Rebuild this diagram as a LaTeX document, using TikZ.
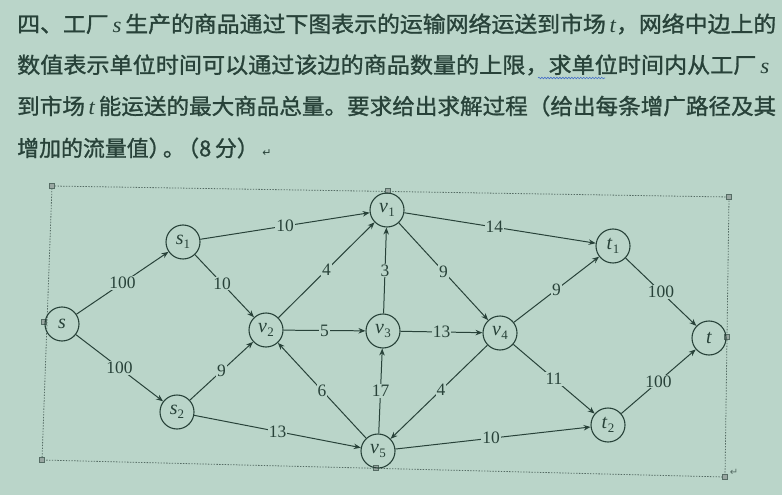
\documentclass[tikz,border=0pt]{standalone}
\usepackage{fontspec}
\usepackage{graphicx}
\setmainfont{Liberation Serif}
\newfontfamily\cjk{Noto Sans CJK SC}[FakeBold=1.2]
\newfontfamily\symf{DejaVu Sans}
\usetikzlibrary{arrows.meta,decorations.pathmorphing}

\definecolor{paper}{RGB}{186,213,201}
\definecolor{ink}{RGB}{40,66,57}
\definecolor{framegray}{RGB}{85,108,100}
\definecolor{spellblue}{RGB}{70,110,200}

% vertex label: italic letter with an upright subscript
\newcommand{\vx}[2]{\textit{#1}\kern0.2pt\raisebox{-0.4ex}{\fontsize{13}{13}\selectfont #2}}
\newcommand{\lit}[1]{{\rmfamily\itshape #1}}

\tikzset{
  vert/.style={circle, draw=ink, line width=1.1pt, minimum size=34bp, inner sep=0pt,
               font=\fontsize{20}{20}\selectfont, text=ink},
  arc/.style={draw=ink, line width=1pt, -{Stealth[length=7bp,width=5.5bp]}},
  wt/.style={fill=paper, inner sep=1pt, font=\fontsize{17.5}{17.5}\selectfont, text=ink},
  textline/.style={anchor=west, inner sep=0pt, text=ink},
  framedash/.style={draw=framegray, line width=0.8pt, dash pattern=on 1.4pt off 1.4pt},
  handle/.style={draw=framegray, fill=framegray!60, line width=0.5pt, minimum size=5bp,
                 inner sep=0pt, rectangle},
}

\begin{document}
\begin{tikzpicture}[x=1bp,y=-1bp]
  \fill[paper] (0,0) rectangle (782,495);
  \useasboundingbox (0,0) rectangle (782,495);

  % problem statement
  \node[textline] (l1) at (17,24) {\resizebox{759bp}{\height}{\cjk\fontsize{22}{22}\selectfont
    四、工厂\,\lit{s}\,生产的商品通过下图表示的运输网络运送到市场\,\lit{t}，网络中边上的}};
  \node[textline] (l2) at (17,65) {\resizebox{752bp}{\height}{\cjk\fontsize{22}{22}\selectfont
    数值表示单位时间可以通过该边的商品数量的上限，求单位时间内从工厂\,\lit{s}}};
  \node[textline] (l3) at (17,106) {\resizebox{759bp}{\height}{\cjk\fontsize{22}{22}\selectfont
    到市场\,\lit{t}\,能运送的最大商品总量。要求给出求解过程（给出每条增广路径及其}};
  \node[textline] (l4) at (17,148) {\cjk\fontsize{22}{22}\selectfont
    增加的流量值）\kern-0.35em。\kern-0.35em（8\,分）\,{\symf\fontsize{11}{11}\selectfont ↵}};

  % spell-check underline
  \draw[spellblue, line width=0.6pt, decorate,
        decoration={snake, amplitude=0.8pt, segment length=3pt}] (538,78) -- (605,78);

  % frame around the figure
  \coordinate (fTL) at (52,186);
  \coordinate (fTR) at (729,197);
  \coordinate (fBR) at (725,477);
  \coordinate (fBL) at (42,460);
  \draw[framedash] (fTL) -- (fTR) -- (fBR) -- (fBL) -- cycle;
  \node[handle] (h1) at (fTL) {};
  \node[handle] (h2) at (fTR) {};
  \node[handle] (h3) at (fBL) {};
  \node[handle] (h4) at (fBR) {};
  \node[handle] (h5) at (388,191) {};
  \node[handle] (h6) at (376,468) {};
  \node[handle] (h7) at (727,337) {};
  \node[handle] (h8) at (44,322) {};
  \node[text=framegray, inner sep=0pt, font=\symf\fontsize{10}{10}\selectfont] (pm) at (734,472) {↵};

  % vertices
  \node[vert] (s)  at (62,324)  {\textit{s}};
  \node[vert] (s1) at (183,242) {\vx{s}{1}};
  \node[vert] (s2) at (177,412) {\vx{s}{2}};
  \node[vert] (v1) at (387,210) {\vx{v}{1}};
  \node[vert] (v2) at (266,330) {\vx{v}{2}};
  \node[vert] (v3) at (383,331) {\vx{v}{3}};
  \node[vert] (v4) at (500,333) {\vx{v}{4}};
  \node[vert] (v5) at (378,451) {\vx{v}{5}};
  \node[vert] (t1) at (613,246) {\vx{t}{1}};
  \node[vert] (t2) at (608,425) {\vx{t}{2}};
  \node[vert] (t)  at (709,338) {\textit{t}};

  % capacitated arcs
  \draw[arc] (s)  -- node[wt] {100} (s1);
  \draw[arc] (s)  -- node[wt] {100} (s2);
  \draw[arc] (s1) -- node[wt] {10} (v1);
  \draw[arc] (s1) -- node[wt, pos=0.46] {10} (v2);
  \draw[arc] (s2) -- node[wt] {9} (v2);
  \draw[arc] (s2) -- node[wt] {13} (v5);
  \draw[arc] (v2) -- node[wt] {4} (v1);
  \draw[arc] (v2) -- node[wt] {5} (v3);
  \draw[arc] (v5) -- node[wt] {6} (v2);
  \draw[arc] (v3) -- node[wt] {3} (v1);
  \draw[arc] (v5) -- node[wt] {17} (v3);
  \draw[arc] (v1) -- node[wt, pos=0.47] {14} (t1);
  \draw[arc] (v1) -- node[wt] {9} (v4);
  \draw[arc] (v3) -- node[wt] {13} (v4);
  \draw[arc] (v4) -- node[wt, pos=0.48] {4} (v5);
  \draw[arc] (v4) -- node[wt] {9} (t1);
  \draw[arc] (v4) -- node[wt] {11} (t2);
  \draw[arc] (v5) -- node[wt, pos=0.49] {10} (t2);
  \draw[arc] (t1) -- node[wt] {100} (t);
  \draw[arc] (t2) -- node[wt] {100} (t);
\end{tikzpicture}
\end{document}
